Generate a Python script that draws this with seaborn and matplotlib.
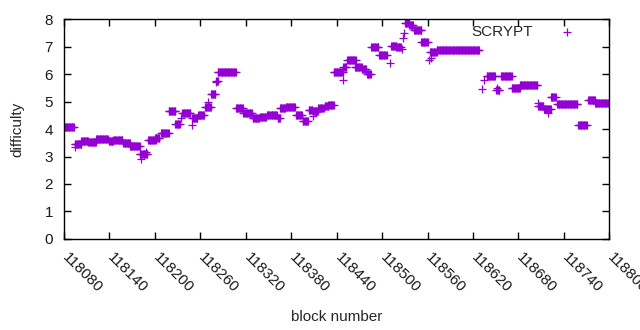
import numpy as np
import pandas as pd
import matplotlib
matplotlib.use("Agg")
import matplotlib.pyplot as plt
import matplotlib.transforms as mtransforms
import seaborn as sns

# runs of blocks with the same difficulty (start block, end block, value)
run_start = [118080, 118094, 118103, 118112, 118122, 118139, 118145, 118158, 118167, 118180,
             118191, 118200, 118208, 118218, 118227, 118236, 118249, 118257, 118266, 118274,
             118281, 118283, 118307, 118317, 118329, 118339, 118348, 118362, 118365, 118373,
             118386, 118395, 118403, 118409, 118416, 118424, 118429, 118436, 118449, 118454,
             118464, 118473, 118480, 118486, 118496, 118512, 118519, 118530, 118536, 118542,
             118552, 118563, 118572, 118638, 118651, 118657, 118671, 118682, 118706, 118714,
             118723, 118731, 118759, 118772, 118781]
run_end = [118093, 118103, 118112, 118122, 118138, 118145, 118157, 118167, 118180, 118190,
           118201, 118206, 118218, 118227, 118233, 118247, 118256, 118265, 118274, 118280,
           118283, 118307, 118316, 118328, 118338, 118347, 118361, 118365, 118372, 118385,
           118394, 118402, 118408, 118415, 118423, 118429, 118436, 118448, 118453, 118465,
           118473, 118479, 118485, 118495, 118506, 118519, 118525, 118535, 118541, 118552,
           118560, 118572, 118628, 118649, 118655, 118671, 118682, 118705, 118713, 118723,
           118729, 118758, 118770, 118781, 118798]
run_diff = [4.06, 3.44, 3.56, 3.52, 3.62, 3.57, 3.60, 3.50, 3.38, 3.08,
            3.60, 3.66, 3.84, 4.65, 4.18, 4.60, 4.39, 4.51, 4.79, 5.26,
            5.74, 6.06, 4.75, 4.57, 4.39, 4.43, 4.51, 4.40, 4.75, 4.81,
            4.51, 4.29, 4.69, 4.65, 4.77, 4.84, 4.87, 6.06, 6.24, 6.53,
            6.24, 6.20, 5.99, 6.97, 6.68, 7.02, 6.97, 7.87, 7.77, 7.60,
            7.15, 6.81, 6.87, 5.93, 5.42, 5.93, 5.48, 5.59, 4.85, 4.73,
            5.17, 4.90, 4.15, 5.05, 4.93]

# isolated blocks
single_block = [118094, 118182, 118188, 118235, 118249, 118270, 118281, 118409, 118413, 118449,
                118510, 118526, 118528, 118529, 118562, 118565, 118632, 118635, 118652, 118706,
                118719]
single_diff = [3.35, 2.90, 3.15, 4.39, 4.15, 4.98, 5.72, 4.48, 4.63, 5.80,
               6.42, 6.90, 7.32, 7.48, 6.50, 6.60, 5.45, 5.80, 5.50, 4.96,
               4.60]

xticks = list(range(118080, 118801, 60))

blocks, diffs = [], []
for s, e, d in zip(run_start, run_end, run_diff):
    for b in range(s, e + 1):
        blocks.append(b)
        diffs.append(d)
blocks += single_block
diffs += single_diff
df = pd.DataFrame({"block": blocks, "difficulty": diffs})

sns.set_theme(style="ticks")
plt.rcParams["font.family"] = ["Liberation Sans", "DejaVu Sans"]

fig, ax = plt.subplots(figsize=(6.4, 3.3), dpi=100)
fig.subplots_adjust(left=0.1, right=0.952, top=0.942, bottom=0.276)

sns.scatterplot(data=df, x="block", y="difficulty", marker="+", s=26, linewidth=0.9,
                color="#9400D3", label="SCRYPT", ax=ax)

ax.set_xlim(118080, 118800)
ax.set_ylim(0, 8)
ax.set_xticks(xticks)
ax.set_yticks(range(0, 9))
ax.set_xticklabels([str(t) for t in xticks], rotation=-45, ha="left", va="top",
                   rotation_mode="anchor", fontsize=11)
ax.tick_params(axis="y", labelsize=11, pad=8)
ax.tick_params(axis="x", pad=6)
ax.tick_params(direction="in", length=5, width=1, top=True, right=True, color="black",
               labelcolor="#1a1a1a")
# nudge the rotated labels a bit right, like gnuplot
shift = mtransforms.ScaledTranslation(4 / 72, -2 / 72, fig.dpi_scale_trans)
for lab in ax.get_xticklabels():
    lab.set_transform(lab.get_transform() + shift)
for sp in ax.spines.values():
    sp.set_visible(True)
    sp.set_linewidth(1)
    sp.set_color("black")

ax.set_xlabel("block number", fontsize=11)
ax.set_ylabel("difficulty", fontsize=11)
ax.xaxis.set_label_coords(0.5, -0.325)
ax.yaxis.set_label_coords(-0.072, 0.5)

ax.legend(loc="upper right", bbox_to_anchor=(0.97, 1.02), markerfirst=False, frameon=False,
          fontsize=11, handletextpad=1.2, borderpad=0.2)

fig.savefig("out.png", dpi=100)
